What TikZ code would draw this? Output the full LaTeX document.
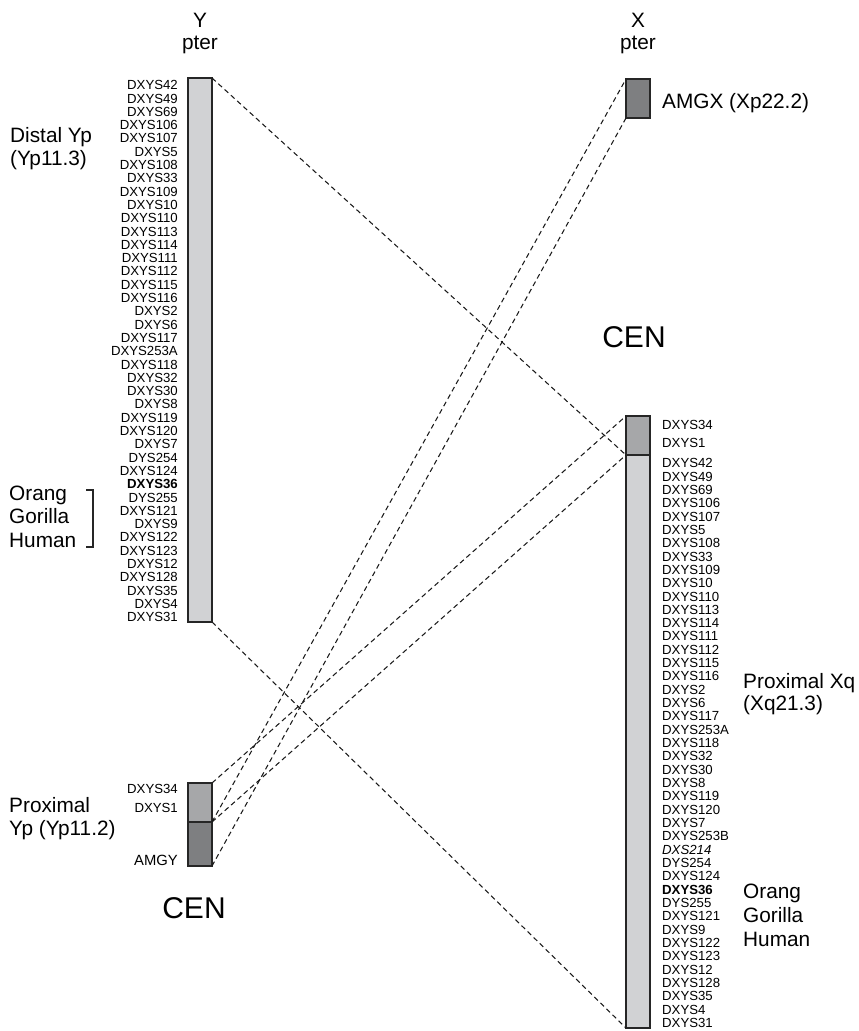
\documentclass[tikz,border=0pt]{standalone}
\usepackage{fontspec}
\setmainfont{Liberation Sans}
\definecolor{chlight}{HTML}{D1D2D4}
\definecolor{chmid}{HTML}{A6A7A9}
\definecolor{chdark}{HTML}{7E7F81}
\begin{document}
\begin{tikzpicture}[x=1pt,y=-1pt,
  chrom/.style={draw=black!85, line width=1.2pt, inner sep=0pt, outer sep=0pt, minimum width=24pt, anchor=north west},
  lbl/.style={font=\fontsize{13.2}{13.2}\selectfont, inner sep=0pt, text height=9.4pt, text depth=0pt},
  bigl/.style={font=\fontsize{20.8}{23}\selectfont, inner sep=0pt, anchor=base west},
  topl/.style={font=\fontsize{20.8}{23}\selectfont, inner sep=0pt, anchor=base},
  cenl/.style={font=\fontsize{30}{30}\selectfont, inner sep=0pt, anchor=base},
  dashlink/.style={dash pattern=on 5pt off 3.5pt, line width=1.05pt, black!90}]
\useasboundingbox (0,0) rectangle (859,1031);

% chromosome blocks
\node[chrom, fill=chlight, minimum height=544pt] (ybox) at (188,78) {};
\node[chrom, fill=chmid, minimum height=39pt] (ypa) at (188,783) {};
\node[chrom, fill=chdark, minimum height=44pt] (amgy) at (188,822) {};
\node[chrom, fill=chdark, minimum height=39pt] (amgx) at (626,79) {};
\node[chrom, fill=chmid, minimum height=39pt] (xqtop) at (626,416) {};
\node[chrom, fill=chlight, minimum height=573pt] (xqmain) at (626,455) {};

% dashed links
\draw[dashlink] (ybox.north east) -- (xqtop.south west);
\draw[dashlink] (ybox.south east) -- (xqmain.south west);
\draw[dashlink] (ypa.north east) -- (xqtop.north west);
\draw[dashlink] (ypa.south east) -- (xqtop.south west);
\draw[dashlink] (ypa.south east) -- (amgx.north west);
\draw[dashlink] (amgy.south east) -- (amgx.south west);

% top labels
\node[topl] (ylab) at (200,27) {Y};
\node[topl] (ypter) at (200,49) {pter};
\node[topl] (xlab) at (638,27) {X};
\node[topl] (xpter) at (638,49) {pter};

% left marker labels
\foreach \t [count=\i] in {DXYS42,DXYS49,DXYS69,DXYS106,DXYS107,DXYS5,DXYS108,DXYS33,DXYS109,DXYS10,DXYS110,DXYS113,DXYS114,DXYS111,DXYS112,DXYS115,DXYS116,DXYS2,DXYS6,DXYS117,DXYS253A,DXYS118,DXYS32,DXYS30,DXYS8,DXYS119,DXYS120,DXYS7,DYS254,DXYS124,\textbf{DXYS36},DYS255,DXYS121,DXYS9,DXYS122,DXYS123,DXYS12,DXYS128,DXYS35,DXYS4,DXYS31}
  \node[lbl, anchor=east] (yl\i) at (178,{85+(\i-1)*13.3}) {\t};

% right marker labels
\foreach \t [count=\i] in {DXYS42,DXYS49,DXYS69,DXYS106,DXYS107,DXYS5,DXYS108,DXYS33,DXYS109,DXYS10,DXYS110,DXYS113,DXYS114,DXYS111,DXYS112,DXYS115,DXYS116,DXYS2,DXYS6,DXYS117,DXYS253A,DXYS118,DXYS32,DXYS30,DXYS8,DXYS119,DXYS120,DXYS7,DXYS253B,\textit{DXS214},DYS254,DXYS124,\textbf{DXYS36},DYS255,DXYS121,DXYS9,DXYS122,DXYS123,DXYS12,DXYS128,DXYS35,DXYS4,DXYS31}
  \node[lbl, anchor=west] (xl\i) at (662,{463+(\i-1)*13.33}) {\t};

% proximal block labels
\node[lbl, anchor=east] (ly34) at (178,789) {DXYS34};
\node[lbl, anchor=east] (ly1) at (178,808) {DXYS1};
\node[lbl, anchor=east, font=\fontsize{14.8}{14.8}\selectfont, text height=10.6pt] (lamgy) at (178,860) {AMGY};
\node[lbl, anchor=west] (rx34) at (662,425) {DXYS34};
\node[lbl, anchor=west] (rx1) at (662,443) {DXYS1};

% region labels
\node[bigl] (dist1) at (10,142) {Distal Yp};
\node[bigl] (dist2) at (10,165) {(Yp11.3)};
\node[bigl] (lor) at (9,500) {Orang};
\node[bigl] (lgo) at (9,523) {Gorilla};
\node[bigl] (lhu) at (9,547) {Human};
\draw[line width=1.1pt, black!85] (86,490) -- (93,490) -- (93,547) -- (86,547);
\node[bigl] (prx1) at (9,812) {Proximal};
\node[bigl] (prx2) at (9,835) {Yp (Yp11.2)};
\node[bigl] (amgxl) at (662,108) {AMGX (Xp22.2)};
\node[bigl] (pxq1) at (743,688) {Proximal Xq};
\node[bigl] (pxq2) at (743,710) {(Xq21.3)};
\node[bigl] (ror) at (743,898) {Orang};
\node[bigl] (rgo) at (743,922) {Gorilla};
\node[bigl] (rhu) at (743,946) {Human};

% centromere labels
\node[cenl] (cenl) at (194,918) {CEN};
\node[cenl] (cenr) at (634,347) {CEN};
\end{tikzpicture}
\end{document}
